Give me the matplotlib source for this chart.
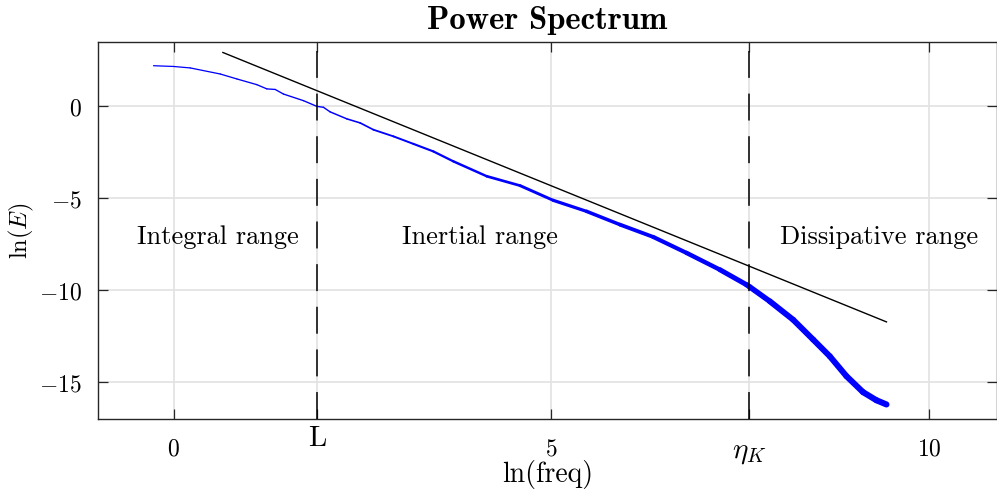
import numpy as np
import matplotlib
matplotlib.use("Agg")
import matplotlib.pyplot as plt
from matplotlib.collections import LineCollection
import matplotlib.transforms as mtransforms

plt.rcParams['mathtext.fontset'] = 'cm'
plt.rcParams['lines.scale_dashes'] = False

# ---- data ----
spec_x = [-0.265, 0.0, 0.221, 0.618, 0.839, 1.103, 1.235, 1.345, 1.455, 1.720,
          1.897, 1.984, 2.073, 2.294, 2.470, 2.646, 2.910, 3.175, 3.439, 3.704,
          4.146, 4.587, 5.026, 5.468, 5.909, 6.349, 6.791, 7.231, 7.585, 7.628,
          7.893, 8.201, 8.466, 8.687, 8.907, 9.127, 9.304, 9.437]
spec_y = [2.21, 2.17, 2.09, 1.76, 1.49, 1.18, 0.95, 0.92, 0.67, 0.31,
          0.00, -0.05, -0.30, -0.68, -0.90, -1.27, -1.63, -2.04, -2.45, -2.99,
          -3.80, -4.31, -5.11, -5.71, -6.43, -7.10, -7.97, -8.88, -9.70, -9.82,
          -10.60, -11.60, -12.68, -13.59, -14.67, -15.54, -15.98, -16.21]

fit_x = [0.653, 9.437]
fit_y = [2.93, -11.72]

L_pos = 1.90
eta_pos = 7.615
vline_y = [-17, 3]

xtick_pos = [0, L_pos, 5, eta_pos, 10]
xtick_labels = ['$0$', 'L', '$5$', r'$\eta_K$', '$10$']
ytick_pos = [-15, -10, -5, 0]
ytick_labels = ['$-15$', '$-10$', '$-5$', '$0$']

region_labels = ['Integral range', 'Inertial range', 'Dissipative range']
region_x = [0.59, 4.06, 9.34]
region_y = -7.1

# ---- figure ----
fig = plt.figure(figsize=(9.97, 4.93), dpi=100)
ax = fig.add_axes([98/997, 1-419/493, (997-98)/997, (419-42)/493])
ax.set_xlim(-1, 10.9)
ax.set_ylim(-17, 3.5)

# grid
ax.set_xticks(xtick_pos)
ax.set_yticks(ytick_pos)
ax.grid(True, color='#e2e2e2', linewidth=1.2, zorder=0)
ax.set_axisbelow(True)

# spectrum (thicker where the noisy band is)
pts = np.column_stack([spec_x, spec_y])
segs = np.stack([pts[:-1], pts[1:]], axis=1)
mid = 0.5 * (np.array(spec_x[:-1]) + np.array(spec_x[1:]))
widths = np.interp(mid, [0, 2.0, 3.5, 5.0, 7.0, 8.0, 9.5], [0.9, 1.0, 1.6, 2.2, 3.2, 4.2, 4.4])
lc = LineCollection(segs, colors='#0000ff', linewidths=widths, capstyle='round', joinstyle='round', zorder=3)
ax.add_collection(lc)

# -5/3 line
ax.plot(fit_x, fit_y, color='black', linewidth=1.0, zorder=4)

# dashed lines
for xv in [L_pos, eta_pos]:
    ax.plot([xv, xv], vline_y, color='black', linewidth=1.1, dashes=(19.4, 11.3), zorder=4)

# region labels
for t, xr in zip(region_labels, region_x):
    ax.text(xr, region_y, t, family='cmr10', fontsize=19, ha='center', va='center', zorder=5)

# ticks
ax.tick_params(direction='in', length=7, width=0.9, color='#262626', top=True, right=True,
               labelsize=17)
ax.tick_params(axis='y', pad=11.5)
ax.tick_params(axis='x', pad=12.5)
num_labels = [lab if lab.startswith('$') and 'eta' not in lab else '' for lab in xtick_labels]
ax.set_xticklabels(num_labels)
ax.set_yticklabels(ytick_labels)
trans = mtransforms.blended_transform_factory(ax.transData, ax.transAxes)
for xp, lab in zip(xtick_pos, xtick_labels):
    if lab == 'L':
        ax.text(xp, -0.053, lab, family='cmr10', fontsize=21, ha='center', va='center', transform=trans)
    elif 'eta' in lab:
        ax.text(xp, -0.088, lab, fontsize=21, ha='center', va='center', transform=trans)

for s in ax.spines.values():
    s.set_color('#262626')
    s.set_linewidth(1.0)

ax.set_xlabel('ln(freq)', family='cmr10', fontsize=20, labelpad=-0.5)
ax.set_ylabel(r'$\mathrm{ln}(E)$', fontsize=17.5, labelpad=2)
ax.set_title('Power Spectrum', family='cmb10', fontsize=23.5, pad=9.4)

fig.savefig('out.png', dpi=100)
